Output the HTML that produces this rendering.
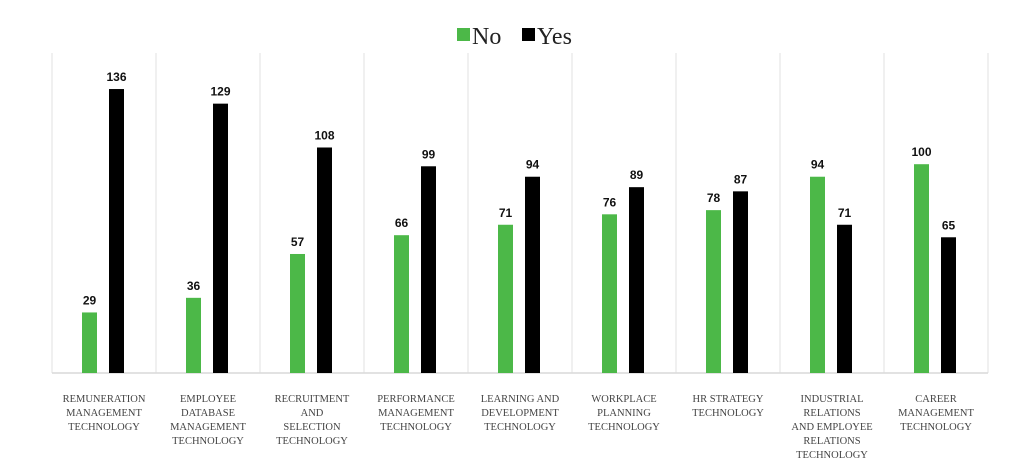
<!DOCTYPE html>
<html><head><meta charset="utf-8"><style>
body{margin:0;background:#fff;width:1033px;height:476px;overflow:hidden}
svg{display:block}
</style></head><body>
<svg id="chart" width="1033" height="476" xmlns="http://www.w3.org/2000/svg">
<g>
<rect x="457" y="28" width="13" height="13" fill="#4cb848"/>
<text x="472" y="44" font-family="Liberation Serif, serif" font-size="24" fill="#222">No</text>
<rect x="522" y="28" width="13" height="13" fill="#000"/>
<text x="537" y="44" font-family="Liberation Serif, serif" font-size="24" fill="#222">Yes</text>
</g>
<g id="plot"></g>
</svg>
<script>
const categories=[["REMUNERATION","MANAGEMENT","TECHNOLOGY"],["EMPLOYEE","DATABASE","MANAGEMENT","TECHNOLOGY"],["RECRUITMENT","AND","SELECTION","TECHNOLOGY"],["PERFORMANCE","MANAGEMENT","TECHNOLOGY"],["LEARNING AND","DEVELOPMENT","TECHNOLOGY"],["WORKPLACE","PLANNING","TECHNOLOGY"],["HR STRATEGY","TECHNOLOGY"],["INDUSTRIAL","RELATIONS","AND EMPLOYEE","RELATIONS","TECHNOLOGY"],["CAREER","MANAGEMENT","TECHNOLOGY"]];
const noValues=[29,36,57,66,71,76,78,94,100];
const yesValues=[136,129,108,99,94,89,87,71,65];
const NS="http://www.w3.org/2000/svg";
const g=document.getElementById('plot');
const left=52,band=104,base=373,top0=53;
const yScale=v=>base-v*2.088;
const xBand=i=>left+i*band;
function el(t,a){const e=document.createElementNS(NS,t);for(const k in a)e.setAttribute(k,a[k]);g.appendChild(e);return e;}
for(let i=0;i<=categories.length;i++){
  const l=el('line',{x1:xBand(i),x2:xBand(i),y1:top0,y2:base,stroke:'#e2e2e2','stroke-width':1});
  
  
}
const ax=el('line',{x1:left,x2:xBand(categories.length),y1:base,y2:base,stroke:'#d9d9d9','stroke-width':1.5});


categories.forEach((c,i)=>{
  const x0=xBand(i);
  [[noValues[i],'#4cb848',30,'bar-no'],[yesValues[i],'#000',57,'bar-yes']].forEach(([v,col,off,nm])=>{
    const y=yScale(v);
    const r=el('rect',{x:x0+off,y:y,width:15,height:base-y,fill:col});
    
    
    const t=el('text',{x:x0+off+7.5,y:y-8,'text-anchor':'middle','font-family':'Liberation Sans, sans-serif','font-size':12,'font-weight':'bold',fill:'#111'});
    t.textContent=v;
    
    
  });
  c.forEach((line,j)=>{
    const t=el('text',{x:x0+band/2,y:402+j*14,'text-anchor':'middle','font-family':'Liberation Serif, serif','font-size':10.5,fill:'#444'});
    t.textContent=line;
    
    
  });
});
</script>
</body></html>
